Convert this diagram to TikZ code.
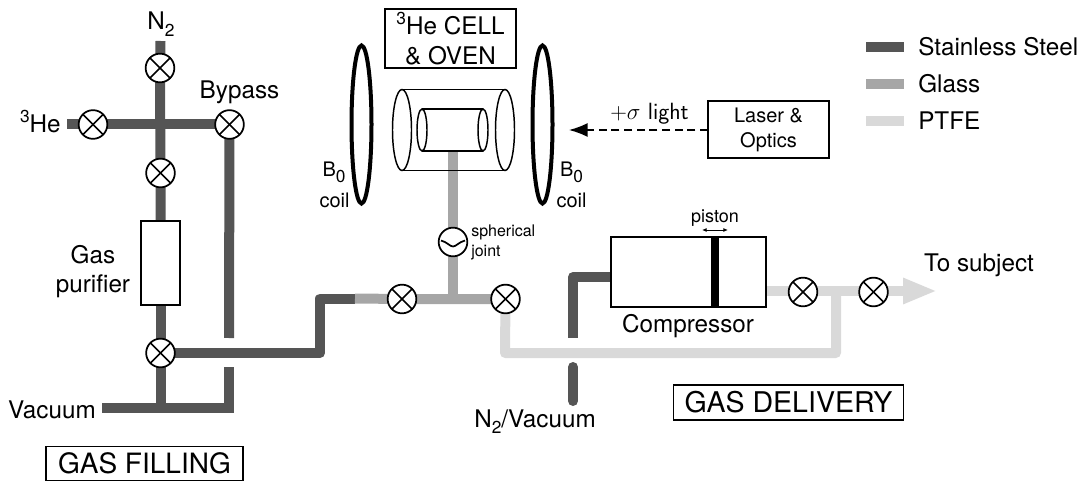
\documentclass[tikz,border=0pt]{standalone}
\usepackage{fontspec}
\setmainfont{TeX Gyre Heros}
\usetikzlibrary{
    arrows.meta,
    backgrounds
}
\newcommand{\lowtxt}[1]{\raisebox{-0.28em}{\fontsize{13}{14}\selectfont #1}}
\newcommand{\hightxt}[1]{\raisebox{0.42em}{\fontsize{13}{14}\selectfont #1}}

\begin{document}
\begin{tikzpicture}[
    x=0.75pt, y=-0.75pt,
    pipe/.style={line width=7.5pt, line join=round},
    steel/.style={pipe, draw=steelgray},
    glass/.style={pipe, draw=glassgray},
    ptfe/.style={pipe, draw=ptfegray},
    valve/.style={circle, draw, fill=white, line width=1.3pt, minimum size=21.5pt, inner sep=0pt,
        path picture={
            \draw[line width=1.3pt] (path picture bounding box.north west) -- (path picture bounding box.south east);
            \draw[line width=1.3pt] (path picture bounding box.north east) -- (path picture bounding box.south west);
        }},
    box/.style={draw, fill=white, line width=1.1pt, inner sep=0pt, align=center},
    label/.style={font=\fontsize{18.2}{21}\selectfont, inner sep=0pt, anchor=base},
    coillabel/.style={font=\fontsize{15}{18}\selectfont, inner sep=0pt, anchor=base},
    smalllabel/.style={font=\fontsize{12}{15}\selectfont, inner sep=0pt, anchor=base west},
    coil/.style={line width=3pt},
    cyl/.style={line width=1.1pt}
]
\definecolor{steelgray}{HTML}{555555}
\definecolor{glassgray}{HTML}{A6A6A6}
\definecolor{ptfegray}{HTML}{D9D9D9}

\useasboundingbox (0,0) rectangle (1082,481);

% Valves
\foreach \name/\x/\y in {top/160/68,he/93/124.5,bypass/229.5/124.5,mid/160.5/173,low/160.5/353,
    cellL/402/299,cellR/505.5/299,outA/803/292,outB/873.5/292} {
    \node[valve] (v\name) at (\x,\y) {};
}

% Boxes
\node[box, minimum width=29pt, minimum height=63pt] (purifier) at (160.5,263) {};
\node[box, minimum width=116pt, minimum height=52.5pt] (compressor) at (688.5,272) {};
\node[box, minimum width=90.5pt, minimum height=42.5pt, font=\fontsize{15}{18.75}\selectfont] (laser) at (768.5,129.5) {Laser \&\\Optics};
\node[box, minimum width=98pt, minimum height=44pt, font=\fontsize{18.2}{22.5}\selectfont] (cellbox) at (450.5,38.5) {\hightxt{3}He CELL\\\& OVEN};
\node[box, minimum width=147.5pt, minimum height=25.5pt, font=\fontsize{21}{25}\selectfont] (filling) at (144.5,463.5) {GAS FILLING};
\node[box, minimum width=172.5pt, minimum height=26pt, font=\fontsize{21.4}{25}\selectfont] (delivery) at (788.5,402.5) {GAS DELIVERY};

% Piston
\fill (711,237) rectangle (719,307);
\draw[{Latex[length=3.5pt,width=3pt]}-{Latex[length=3.5pt,width=3pt]}, line width=0.7pt] (702,230) -- (728,230);

% Spherical joint
\node[circle, draw, fill=white, line width=1.3pt, minimum size=21.5pt, inner sep=0pt] (joint) at (453,242) {};
\draw[line width=1.3pt] (441,240.5) .. controls (447,242) and (450,246.5) .. (453,246.5) .. controls (456,246.5) and (459,242) .. (465,240.5);

% Cell and oven
\draw[cyl] (402,130) ellipse (9.5 and 40.5);
\draw[cyl] (505,130) ellipse (9.5 and 40.5);
\draw[cyl] (402,89.5) -- (505,89.5);
\draw[cyl] (402,170.5) -- (505,170.5);
\draw[cyl] (422,130) ellipse (5 and 21);
\draw[cyl] (483,130) ellipse (5 and 21);
\draw[cyl] (422,109) -- (483,109);
\draw[cyl] (422,151) -- (483,151);

% Coils
\draw[coil] (361.5,124.5) ellipse (10 and 79);
\draw[coil] (542.5,124.5) ellipse (10 and 79);

% Free ends
\coordinate (cellstem) at (453,152);
\coordinate (ntwo) at (160.5,41);
\coordinate (heend) at (67,124.5);
\coordinate (vacend) at (102,408);
\coordinate (vacjoin) at (160.5,408);
\coordinate (tsubject) at (937,291);
\coordinate (ptfejoin) at (836,291);
\coordinate (glassjoin) at (453,299);
\coordinate (compin) at (611,277);
\coordinate (compout) at (766,291);
\coordinate (laserout) at (708,130);
\coordinate (lighttip) at (569,130);

% Pipes
\begin{scope}[on background layer]
    \draw[steel] (ntwo) -- (vtop.center) -- (vmid.center) -- (purifier.north);
    \draw[steel] (heend) -- (vhe.center) -- (vbypass.center);
    \draw[steel] (vbypass.center) -- (229,338);
    \draw[steel, line join=miter] (229,367) -- (229,408) -- (vacend);
    \draw[steel] (purifier.south) -- (vlow.center) -- (vacjoin);
    \draw[steel] (vlow.center) -- (320,353) -- (320,298.5) -- (355,298.5);
    \draw[glass] (355,298.5) -- (vcellL.center) -- (vcellR.center);
    \draw[glass] (cellstem) -- (joint.center) -- (glassjoin);
    \draw[steel] (compin) -- (573,277) -- (573,338);
    \draw[steel, line cap=round] (573,367) -- (573,401);
    \draw[ptfe] (vcellR.center) -- (505,353) -- (836,353) -- (ptfejoin);
    \draw[ptfe, -{Triangle[length=25.5pt,width=18pt]}] (compout) -- (tsubject);
\end{scope}

% Light path
\draw[line width=1.1pt, dash pattern=on 6pt off 3.5pt, -{Latex[length=14pt,width=10.5pt]}] (laserout) -- (lighttip);

% Labels
\node[label] (ltwo) at (161,30) {N\lowtxt{2}};
\node[label, anchor=base east] (lhe) at (61,133) {\hightxt{3}He};
\node[label] (lbypass) at (239.5,99) {Bypass};
\node[label] (lgas) at (93,263) {Gas};
\node[label] (lpurifier) at (93,292) {purifier};
\node[label, anchor=base east] (lvacuum) at (96,418) {Vacuum};
\node[label] (lnvac) at (535,427) {N\lowtxt{2}/Vacuum};
\node[label] (lcomp) at (688,332) {Compressor};
\node[label] (lsubject) at (979,272) {To subject};
\node[label, font=\fontsize{13.5}{16}\selectfont] (lpiston) at (715,223) {piston};
\node[smalllabel] (lspher) at (471,237) {spherical};
\node[smalllabel] (ljoint) at (471,257) {joint};
\node[coillabel] (lbzeroL) at (334,177) {B\lowtxt{0}};
\node[coillabel] (lcoilL) at (334.5,208) {coil};
\node[coillabel] (lbzeroR) at (571.5,177) {B\lowtxt{0}};
\node[coillabel] (lcoilR) at (571.5,208) {coil};
\node[inner sep=0pt, anchor=base, font=\fontsize{17.6}{18}\selectfont\sffamily] (llight) at (649.5,120) {$+\sigma$ light};

% Legend
\foreach \name/\y/\base/\col/\txt in {steel/47/56/steelgray/Stainless Steel,glass/84/93/glassgray/Glass,ptfe/121/130/ptfegray/PTFE} {
    \coordinate (s\name) at (866,\y);
    \coordinate (e\name) at (904,\y);
    \draw[pipe, draw=\col] (s\name) -- (e\name);
    \node[label, anchor=base west] (l\name) at (918,\base) {\txt};
}

\end{tikzpicture}
\end{document}
